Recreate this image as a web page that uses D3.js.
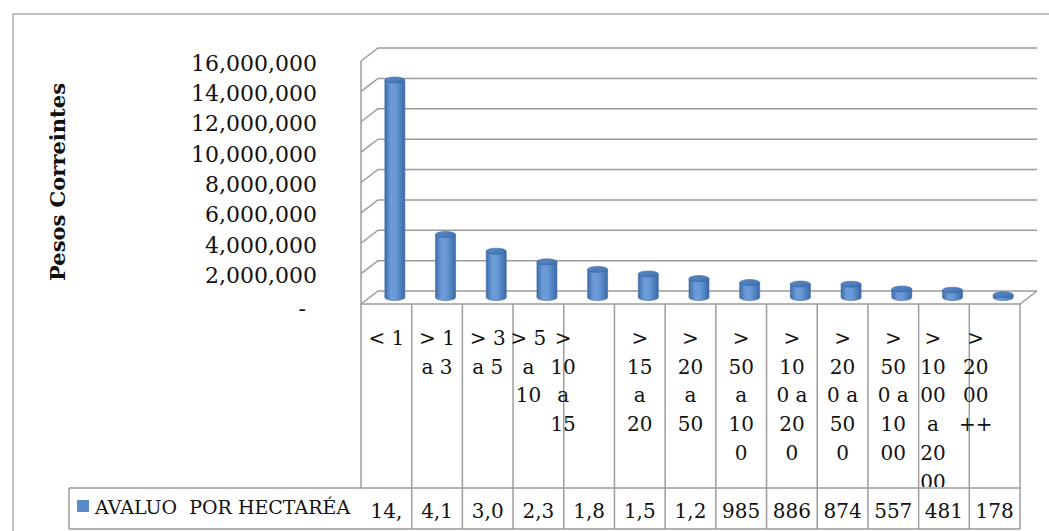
<!DOCTYPE html>
<html>
<head>
<meta charset="utf-8">
<script src="https://cdn.jsdelivr.net/npm/d3@7"></script>
<style>
  html, body { margin: 0; padding: 0; background: #fff; }
  svg { display: block; }
  text { font-family: "DejaVu Serif", serif; fill: #111; }
</style>
</head>
<body>
<svg id="chart" width="1049" height="531"></svg>
<script>
// ---- data ----
const categories = ["< 1", "> 1 a 3", "> 3 a 5", "> 5 a 10", "> 10 a 15", "> 15 a 20", "> 20 a 50",
  "> 50 a 100", "> 100 a 200", "> 200 a 500", "> 500 a 1000", "> 1000 a 2000", "> 2000 ++"];
const seriesName = "AVALUO  POR HECTARÉA";
const values = [14320000, 4150000, 3050000, 2350000, 1850000, 1550000, 1250000,
  985000, 886000, 874000, 557000, 481000, 178000];
const yTicks = [0, 2000000, 4000000, 6000000, 8000000, 10000000, 12000000, 14000000, 16000000];
const yTitle = "Pesos Correintes";

// ---- layout ----
const W = 1049, H = 531;
const left = 361, right = 1020;       // front floor edge
const dx = 17, dy = 13;               // 3D depth offset
const y0Front = 304, yTopFront = 61;
const headerBottom = 488, rowBottom = 529, legendLeft = 69;
const headerShift = [0, 0, 0, -10, -26, 0, 0, 0, 0, 0, 0, -11, -19];
const gridColor = "#9c9c9c";

const svg = d3.select("#chart");

const x = d3.scaleBand().domain(categories).range([left, right]).padding(0);
const yF = d3.scaleLinear().domain([0, 16000000]).range([y0Front, yTopFront]);
const yB = v => yF(v) - dy;           // back wall
const yM = v => yF(v) - dy / 2;       // middle depth (bars)

// outer frame
svg.append("path")
  .attr("d", `M13,${H} L13,14 L${W},14`)
  .attr("fill", "none").attr("stroke", "#b0b0b0").attr("stroke-width", 1.5);

// gridlines + side wall diagonals
const grid = svg.append("g").attr("fill", "none").attr("stroke", gridColor).attr("stroke-width", 1.5);
yTicks.forEach(t => {
  grid.append("path")
    .attr("d", `M${left},${yF(t)} L${left + dx},${yB(t)} L${right + dx},${yB(t)}`);
});
// front left axis line
grid.append("line").attr("x1", left).attr("x2", left).attr("y1", yF(16000000)).attr("y2", headerBottom);
// floor front edge and right edge
grid.append("path").attr("d", `M${left},${y0Front} L${right},${y0Front} L${right + dx},${yB(0)}`);

// y tick labels
const fmt = d3.format(",");
svg.append("g").selectAll("text").data(yTicks).join("text")
  .attr("x", d => d === 0 ? 306 : 317)
  .attr("y", d => yF(d) + (d === 0 ? 4 : 2))
  .attr("text-anchor", "end")
  .attr("dominant-baseline", "central")
  .style("font-size", "22px")
  .text(d => d === 0 ? "-" : fmt(d));

// y title
svg.append("text")
  .attr("transform", "translate(65,182) rotate(-90)")
  .attr("text-anchor", "middle")
  .style("font-size", "21px").style("font-weight", "bold")
  .text(yTitle);

// gradients for cylinders
const defs = svg.append("defs");
const g1 = defs.append("linearGradient").attr("id", "cyl").attr("x1", "0").attr("x2", "1").attr("y1", "0").attr("y2", "0");
[["0%", "#3d6dab"], ["30%", "#6d9cd8"], ["55%", "#6899d6"], ["100%", "#3a69a6"]]
  .forEach(s => g1.append("stop").attr("offset", s[0]).attr("stop-color", s[1]));
const g2 = defs.append("linearGradient").attr("id", "cyltop").attr("x1", "0").attr("x2", "1").attr("y1", "0").attr("y2", "1");
[["0%", "#5b8bc9"], ["100%", "#3f6fae"]]
  .forEach(s => g2.append("stop").attr("offset", s[0]).attr("stop-color", s[1]));

// bars (cylinders)
const rx = 10, ry = 3;
const bars = svg.append("g").selectAll("g").data(values).join("g");
bars.each(function (v, i) {
  const g = d3.select(this);
  const cx = x(categories[i]) + x.bandwidth() / 2 + dx / 2;
  const yt = yM(v), yb = yM(0);
  g.append("path")
    .attr("d", `M${cx - rx},${yt} L${cx - rx},${yb} A${rx},${ry} 0 0 0 ${cx + rx},${yb} L${cx + rx},${yt} Z`)
    .attr("fill", "url(#cyl)").attr("stroke", "#3a67a2").attr("stroke-width", 0.6);
  g.append("ellipse")
    .attr("cx", cx).attr("cy", yt).attr("rx", rx).attr("ry", ry)
    .attr("fill", "url(#cyltop)").attr("stroke", "#3a67a2").attr("stroke-width", 0.6);
});

// ---- data table ----
const tbl = svg.append("g").attr("fill", "none").attr("stroke", gridColor).attr("stroke-width", 1.5);
categories.forEach((c, i) => {
  const xr = x(c) + x.bandwidth();
  tbl.append("line").attr("x1", xr).attr("x2", xr).attr("y1", y0Front).attr("y2", rowBottom);
});
tbl.append("path").attr("d", `M${legendLeft},${headerBottom} L${right},${headerBottom} M${legendLeft},${rowBottom} L${right},${rowBottom} M${legendLeft},${headerBottom} L${legendLeft},${rowBottom}`);

defs.append("clipPath").attr("id", "hdrclip").append("rect")
  .attr("x", left).attr("y", y0Front).attr("width", right - left).attr("height", headerBottom - y0Front - 1);

// measuring helper
const meas = svg.append("text").style("font-size", "20px").attr("opacity", 0);
function tw(s) { meas.text(s); return meas.node().getComputedTextLength(); }

function wrap(label, maxW) {
  const words = label.split(" ");
  const lines = [];
  let cur = "";
  const pushWord = w => {
    let chunk = "";
    for (const ch of w) {
      if (chunk && tw(chunk + ch) > maxW) { lines.push(chunk); chunk = ch; }
      else chunk += ch;
    }
    return chunk;
  };
  words.forEach(w => {
    if (!cur) { cur = tw(w) <= maxW ? w : pushWord(w); }
    else if (tw(cur + " " + w) <= maxW) { cur = cur + " " + w; }
    else { lines.push(cur); cur = tw(w) <= maxW ? w : pushWord(w); }
  });
  if (cur) lines.push(cur);
  return lines;
}

const hdr = svg.append("g").attr("clip-path", "url(#hdrclip)");
categories.forEach((c, i) => {
  const lines = wrap(c, 37.5);
  const cx = x(c) + x.bandwidth() / 2 + headerShift[i];
  const t = hdr.append("text").attr("text-anchor", "middle").style("font-size", "20px");
  lines.forEach((ln, k) => {
    t.append("tspan").attr("x", cx).attr("y", 345 + k * 28.7).text(ln);
  });
});

// data row values (truncated to fit the cell)
values.forEach((v, i) => {
  let s = fmt(v);
  while (s.length > 1 && tw(s) > 41) s = s.slice(0, -1);
  svg.append("text")
    .attr("x", x(categories[i]) + x.bandwidth() / 2)
    .attr("y", 518)
    .attr("text-anchor", "middle")
    .style("font-size", "20px")
    .text(s);
});

// legend key
svg.append("rect").attr("x", 77).attr("y", 500).attr("width", 12).attr("height", 12).attr("fill", "#5b8ac6");
svg.append("text")
  .attr("x", 95).attr("y", 514)
  .style("font-size", "19px").style("white-space", "pre")
  .text(seriesName);

meas.remove();
</script>
</body>
</html>
